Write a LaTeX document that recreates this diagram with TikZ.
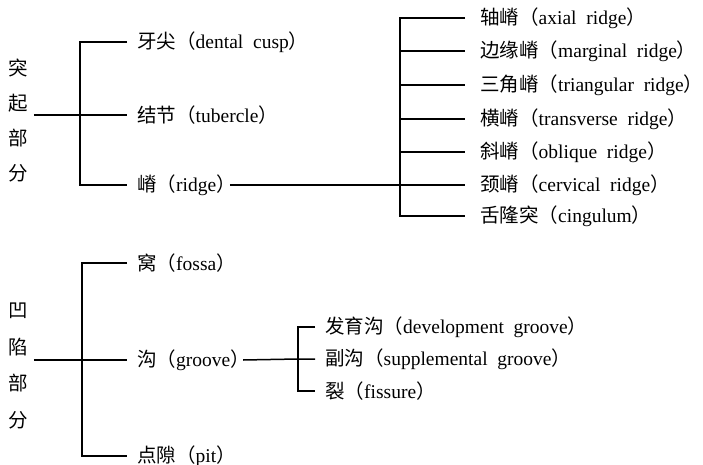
\documentclass[tikz,border=0pt]{standalone}
\usepackage{fontspec}
\setmainfont{Liberation Serif}
\newfontfamily\cjk{Noto Sans CJK SC}
\usetikzlibrary{calc}
\newcommand\zhen[2]{{\cjk #1（}#2{\cjk ）}}
\tikzset{
  lbl/.style={anchor=west, inner sep=0pt, font=\fontsize{19.5}{22}\selectfont},
  vlbl/.style={align=center, inner sep=0pt},
  conn/.style={line width=1.5pt, line cap=butt},
}
\begin{document}
\begin{tikzpicture}[x=1pt,y=-1pt]
\useasboundingbox (0,0) rectangle (703,465);
% ---------- top tree ----------
\node[vlbl, font=\cjk\fontsize{19.5}{35}\selectfont] (lab1) at (18,121) {突\\起\\部\\分};
\node[lbl] (cusp) at (137,42) {\zhen{牙尖}{dental\ \ cusp}};
\node[lbl] (tub) at (137,115) {\zhen{结节}{tubercle}};
\node[lbl] (ridge) at (137,185) {\zhen{嵴}{ridge}};
\coordinate (j1) at (80,115);
\draw[conn] ($(lab1.east |- j1)+(6,0)$) -- (j1) -- ([xshift=-10pt]tub.west);
\draw[conn] ([xshift=-10pt]cusp.west) -| (j1) |- ([xshift=-10pt]ridge.west);
% ridge sub-tree
\node[lbl] (a1) at (480,18) {\zhen{轴嵴}{axial\ \ ridge}};
\node[lbl] (a2) at (480,51) {\zhen{边缘嵴}{marginal\ \ ridge}};
\node[lbl] (a3) at (480,85) {\zhen{三角嵴}{triangular\ \ ridge}};
\node[lbl] (a4) at (480,119) {\zhen{横嵴}{transverse\ \ ridge}};
\node[lbl] (a5) at (480,152) {\zhen{斜嵴}{oblique\ \ ridge}};
\node[lbl] (a6) at (480,185) {\zhen{颈嵴}{cervical\ \ ridge}};
\node[lbl] (a7) at (480,216) {\zhen{舌隆突}{cingulum}};
\coordinate (j2) at (400,185);
\draw[conn] ([xshift=-6pt]ridge.east) -- (j2) -- ([xshift=-15pt]a6.west);
\draw[conn] ([xshift=-15pt]a1.west) -| (j2) |- ([xshift=-15pt]a7.west);
\foreach \n in {a2,a3,a4,a5}
  \draw[conn] (j2 |- \n.west) -- ([xshift=-15pt]\n.west);
% ---------- bottom tree ----------
\node[vlbl, font=\cjk\fontsize{19.5}{36.7}\selectfont] (lab2) at (18,366) {凹\\陷\\部\\分};
\node[lbl] (fossa) at (137,263) {\zhen{窝}{fossa}};
\node[lbl] (groove) at (137,360) {\zhen{沟}{groove}};
\node[lbl] (pit) at (137,456) {\zhen{点隙}{pit}};
\coordinate (j3) at (82,360);
\draw[conn] ($(lab2.east |- j3)+(6,0)$) -- (j3) -- ([xshift=-10pt]groove.west);
\draw[conn] ([xshift=-10pt]fossa.west) -| (j3) |- ([xshift=-10pt]pit.west);
% groove sub-tree
\node[lbl] (b1) at (325,327) {\zhen{发育沟}{development\ \ groove}};
\node[lbl] (b2) at (325,359) {\zhen{副沟}{supplemental\ \ groove}};
\node[lbl] (b3) at (325,391) {\zhen{裂}{fissure}};
\coordinate (j4) at (298,359);
\draw[conn] ([xshift=-7pt]groove.east) -- (j4) -- ([xshift=-10pt]b2.west);
\draw[conn] ([xshift=-10pt]b1.west) -| (j4) |- ([xshift=-10pt]b3.west);
\end{tikzpicture}
\end{document}
